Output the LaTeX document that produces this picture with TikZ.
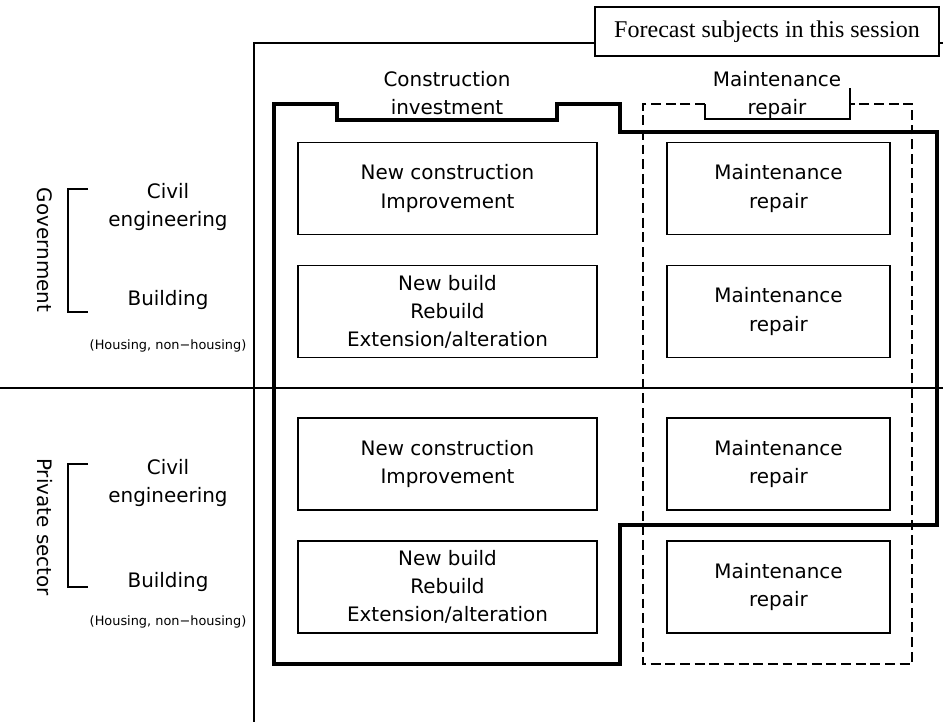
\documentclass[tikz,border=0pt]{standalone}
\usepackage{fontspec}
\setmainfont{Liberation Serif}
\setsansfont{DejaVu Sans}

\tikzset{
  item/.style={draw, line width=1.4pt, align=center, inner sep=0pt,
    font=\sffamily\fontsize{17}{24}\selectfont, minimum height=2.76cm},
  invest/.style={item, minimum width=8.97cm},
  repair/.style={item, minimum width=6.69cm},
  lbl/.style={align=center, font=\sffamily\fontsize{17}{24}\selectfont},
  note/.style={font=\sffamily\fontsize{11}{13}\selectfont},
  thin/.style={line width=1.4pt},
}

\begin{document}
\begin{tikzpicture}[x=0.03cm, y=-0.03cm]
            \useasboundingbox (0,0) rectangle (943,722);
            % frame and the line between government and private sector
            \draw[thin] (254,722) -- (254,43) -- (943,43);
            \draw[thin] (0,388) -- (943,388);
            \node[draw, thin, fill=white, minimum width=10.32cm, minimum height=1.47cm,
                  font=\fontsize{20.5}{24}\selectfont] (subj) at (767,31.5) {Forecast subjects in this session};
            % column heads
            \node[lbl] (hinv) at (447,93.5) {Construction\\investment};
            \node[lbl] (hrep) at (777,95) {Maintenance\\repair};
            % row heads
            \node[lbl, rotate=-90] (gov) at (45,250) {Government};
            \node[lbl] (gcivil) at (168,207) {Civil\\engineering};
            \node[lbl] (gbuild) at (168,300) {Building};
            \node[note] (ghouse) at (168,346) {(Housing, non−housing)};
            \draw[thin] (88,189) -- (68,189) -- (68,312) -- (88,312);
            \node[lbl, rotate=-90] (priv) at (45,527) {Private sector};
            \node[lbl] (pcivil) at (168,483) {Civil\\engineering};
            \node[lbl] (pbuild) at (168,582) {Building};
            \node[note] (phouse) at (168,622) {(Housing, non−housing)};
            \draw[thin] (88,464) -- (68,464) -- (68,587) -- (88,587);
            % boxes
            \node[invest] (gnew) at (447.5,188.5) {New construction\\Improvement};
            \node[invest] (gre) at (447.5,311.5) {New build\\Rebuild\\Extension/alteration};
            \node[invest] (pnew) at (447.5,464) {New construction\\Improvement};
            \node[invest] (pre) at (447.5,587) {New build\\Rebuild\\Extension/alteration};
            \node[repair] (gmc) at (778.5,188.5) {Maintenance\\repair};
            \node[repair] (gmb) at (778.5,311.5) {Maintenance\\repair};
            \node[repair] (pmc) at (778.5,464) {Maintenance\\repair};
            \node[repair] (pmb) at (778.5,587) {Maintenance\\repair};
            % maintenance outline
            \draw[thin, dash pattern=on 8.5pt off 4pt] (705,104) -- (643,104) -- (643,664) -- (912,664) -- (912,104) -- (850,104);
            \draw[thin] (705,104) -- (705,119) -- (850,119) -- (850,88);
            % forecast subjects outline
            \draw[line width=3.4pt] (274,104) -- (337,104) -- (337,120) -- (557,120) -- (557,104)
                -- (620,104) -- (620,132) -- (937,132) -- (937,525) -- (620,525) -- (620,664) -- (274,664) -- cycle;
        \end{tikzpicture}
\end{document}
